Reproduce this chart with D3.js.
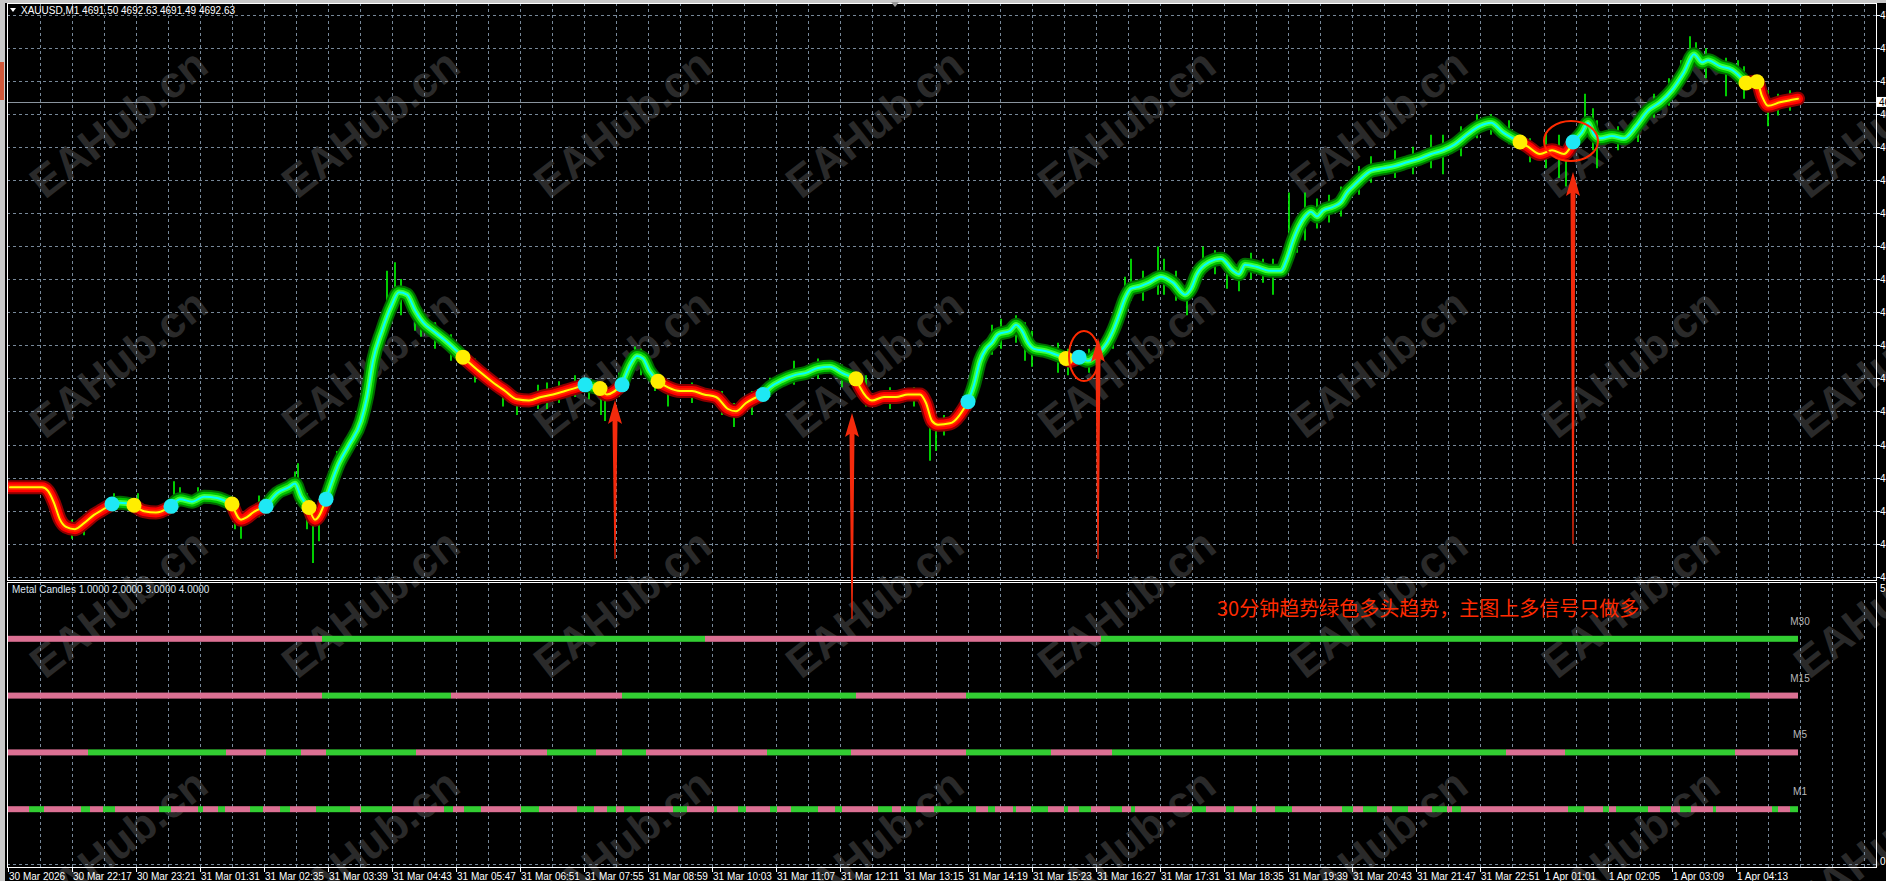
<!DOCTYPE html>
<html>
<head>
<meta charset="utf-8">
<script src="https://cdn.jsdelivr.net/npm/d3@7"></script>
<style>
body { margin: 0; background: #000; overflow: hidden; }
svg { display: block; }
</style>
</head>
<body>
<script>
// ---- data ----
var timeLabels = ["30 Mar 2026", "30 Mar 22:17", "30 Mar 23:21", "31 Mar 01:31", "31 Mar 02:35", "31 Mar 03:39",
  "31 Mar 04:43", "31 Mar 05:47", "31 Mar 06:51", "31 Mar 07:55", "31 Mar 08:59", "31 Mar 10:03", "31 Mar 11:07",
  "31 Mar 12:11", "31 Mar 13:15", "31 Mar 14:19", "31 Mar 15:23", "31 Mar 16:27", "31 Mar 17:31", "31 Mar 18:35",
  "31 Mar 19:39", "31 Mar 20:43", "31 Mar 21:47", "31 Mar 22:51", "1 Apr 01:01", "1 Apr 02:05", "1 Apr 03:09", "1 Apr 04:13"];

// smoothed trend line [bar, price]
var trendLine = [[2,4461.5],[34,4461.5],[40,4459.3],[46,4452.1],[52,4442.0],[58,4437.7],[67,4436.3],[76,4439.9],[86,4444.9],
  [94,4447.8],[104,4451.4],[112,4452.1],[126,4450.7],[136,4447.1],[148,4446.3],[163,4450.0],[172,4454.3],[184,4452.8],
  [196,4455.7],[209,4455.0],[224,4451.4],[233,4442.0],[239,4443.5],[245,4446.3],[258,4450.0],[269,4457.9],[281,4461.5],
  [287,4463.7],[293,4455.7],[301,4449.3],[307,4442.0],[318,4454.3],[331,4475.9],[341,4486.8],[353,4501.2],[359,4515.6],
  [365,4537.3],[374,4555.3],[383,4569.8],[391,4578.4],[399,4577.0],[407,4567.6],[415,4560.4],[425,4555.3],[437,4549.6],
  [455,4539.5],[473,4530.1],[485,4524.3],[497,4519.2],[509,4514.2],[521,4513.5],[533,4515.6],[545,4517.1],[557,4519.2],
  [577,4522.9],[592,4520.7],[599,4517.1],[614,4522.9],[623,4535.8],[629,4540.2],[635,4538.7],[641,4531.5],[650,4525.0],
  [660,4521.4],[672,4519.2],[684,4519.2],[696,4517.1],[708,4515.6],[720,4508.4],[728,4507.0],[738,4512.0],[755,4517.1],
  [762,4521.4],[774,4525.7],[786,4528.6],[798,4530.1],[810,4533.0],[822,4533.7],[834,4530.1],[848,4526.5],[852,4521.4],
  [864,4513.5],[876,4515.6],[888,4515.6],[900,4517.1],[912,4517.1],[918,4512.0],[924,4501.2],[930,4499.0],[942,4499.8],
  [960,4512.8],[966,4522.9],[972,4537.3],[978,4544.5],[984,4548.1],[990,4553.2],[1002,4555.3],[1008,4558.9],[1014,4555.3],
  [1020,4548.1],[1026,4544.5],[1038,4543.1],[1058,4538.7],[1062,4537.3],[1071,4539.5],[1080,4537.3],[1089,4540.9],
  [1099,4548.1],[1105,4555.3],[1111,4564.7],[1117,4574.8],[1123,4580.6],[1132,4582.0],[1141,4584.2],[1153,4587.8],
  [1165,4584.2],[1177,4577.0],[1183,4580.6],[1189,4589.3],[1201,4596.5],[1213,4598.6],[1225,4591.4],[1231,4589.3],
  [1237,4595.0],[1249,4593.6],[1261,4591.4],[1273,4591.4],[1279,4598.6],[1285,4609.5],[1291,4618.1],[1297,4623.9],
  [1303,4626.8],[1309,4623.9],[1315,4627.5],[1325,4629.7],[1333,4632.6],[1339,4638.3],[1345,4642.0],[1351,4645.5],
  [1363,4651.3],[1375,4652.8],[1387,4654.2],[1399,4656.4],[1411,4658.5],[1423,4661.4],[1435,4663.6],[1447,4667.2],
  [1459,4673.0],[1471,4678.0],[1483,4680.2],[1495,4674.4],[1512,4668.6],[1520,4665.8],[1532,4661.4],[1544,4663.6],
  [1556,4661.4],[1565,4668.6],[1574,4674.4],[1580,4680.2],[1586,4673.0],[1592,4670.8],[1604,4672.2],[1616,4670.8],
  [1628,4678.0],[1640,4687.4],[1652,4692.4],[1664,4699.7],[1676,4710.5],[1686,4721.3],[1694,4716.3],[1700,4717.7],
  [1712,4714.1],[1724,4711.9],[1738,4704.0],[1749,4704.7],[1754,4696.1],[1760,4690.3],[1772,4692.4],[1784,4693.9],[1790,4694.6]];

var bullSignals = [104, 163, 258, 318, 577, 614, 755, 960, 1071, 1565];
var bearSignals = [126, 224, 301, 455, 592, 650, 848, 1058, 1512, 1738, 1749];

// candle wicks that stick out of the trend line [bar, high, low]
var wicks = [[35,4465.1,4457.9],[52,4450.7,4436.3],[64,4442.0,4430.5],[76,4444.9,4432.6],[106,4457.9,4447.1],
  [130,4457.9,4444.9],[166,4465.1,4447.1],[172,4461.5,4450.7],[190,4461.5,4450.7],[227,4450.7,4436.3],[233,4447.1,4430.5],
  [251,4456.5,4443.5],[287,4470.9,4457.9],[290,4475.9,4459.3],[299,4457.9,4436.3],[305,4450.7,4416.0],[311,4454.3,4429.0],
  [329,4483.2,4468.7],[353,4508.4,4494.0],[359,4522.9,4504.8],[379,4591.4,4566.2],[387,4596.5,4573.4],[393,4586.4,4564.7],
  [407,4573.4,4555.3],[413,4567.6,4551.7],[427,4560.4,4544.5],[443,4553.2,4537.3],[467,4538.7,4524.3],[495,4524.3,4509.9],
  [509,4518.5,4504.8],[530,4522.9,4508.4],[539,4524.3,4508.4],[551,4525.0,4512.0],[567,4528.6,4515.6],[581,4525.7,4514.2],
  [593,4522.9,4504.8],[597,4521.4,4501.2],[611,4530.1,4515.6],[627,4545.9,4533.7],[633,4544.5,4528.6],[647,4531.5,4519.2],
  [660,4524.3,4509.9],[684,4524.3,4512.0],[714,4519.2,4504.8],[726,4512.0,4497.6],[744,4519.2,4504.8],[762,4527.2,4515.6],
  [786,4537.3,4522.9],[810,4538.7,4526.5],[834,4535.1,4521.4],[858,4528.6,4509.9],[882,4521.4,4508.4],[906,4521.4,4509.9],
  [922,4512.0,4477.4],[928,4504.8,4483.2],[936,4504.8,4492.5],[972,4545.9,4530.1],[984,4558.9,4540.9],[993,4562.5,4544.5],
  [1008,4564.7,4548.1],[1017,4560.4,4537.3],[1024,4555.3,4533.7],[1050,4548.1,4530.1],[1060,4544.5,4528.6],
  [1081,4544.5,4530.1],[1105,4562.5,4544.5],[1117,4587.8,4566.2],[1123,4598.6,4573.4],[1135,4591.4,4573.4],
  [1150,4605.9,4577.0],[1156,4598.6,4577.0],[1168,4591.4,4573.4],[1179,4584.2,4564.7],[1195,4605.9,4587.8],
  [1207,4603.7,4589.3],[1219,4598.6,4580.6],[1231,4596.5,4579.1],[1243,4602.2,4586.4],[1255,4598.6,4584.2],
  [1265,4598.6,4577.0],[1281,4638.3,4605.9],[1289,4620.3,4602.2],[1297,4638.3,4609.5],[1309,4634.7,4616.7],
  [1321,4636.9,4620.3],[1333,4641.9,4623.9],[1351,4654.2,4636.9],[1363,4660.0,4644.1],[1387,4663.6,4647.0],
  [1405,4665.8,4649.2],[1423,4673.0,4652.8],[1435,4673.0,4649.2],[1453,4678.0,4660.0],[1469,4685.2,4670.8],
  [1483,4685.2,4673.0],[1501,4681.6,4667.2],[1522,4670.8,4656.4],[1538,4674.4,4652.8],[1551,4673.0,4647.0],
  [1558,4668.6,4641.9],[1577,4697.5,4670.8],[1585,4688.8,4663.6],[1589,4681.6,4652.8],[1610,4678.0,4663.6],
  [1630,4685.2,4668.6],[1646,4697.5,4683.1],[1661,4706.9,4690.3],[1673,4717.7,4701.8],[1682,4732.1,4711.9],
  [1688,4728.5,4714.1],[1698,4724.9,4706.9],[1718,4719.2,4696.1],[1730,4717.7,4703.3],[1736,4714.1,4694.6],
  [1760,4699.7,4678.0],[1770,4697.5,4684.5],[1782,4699.7,4687.4]];

var lastClose = 4692.63;

// Metal Candles sub window: [start bar, 1 = up / 0 = down]
var m30 = [[0,0],[314,1],[697,0],[1093,1]];
var m15 = [[0,0],[314,1],[443,0],[614,1],[848,0],[958,1],[1742,0]];
var m5 = [[0,0],[80,1],[218,0],[258,1],[293,0],[318,1],[408,0],[539,1],[588,0],[614,1],[638,0],[759,1],[843,0],
  [958,1],[1043,0],[1104,1],[1498,0],[1557,1],[1727,0]];
var m1 = [[0,0],[21,1],[36,0],[73,1],[82,0],[95,1],[107,0],[151,1],[163,0],[190,1],[195,0],[210,1],[217,0],[242,1],
  [255,0],[272,1],[282,0],[308,1],[342,0],[353,1],[384,0],[436,1],[445,0],[456,1],[473,0],[513,1],[531,0],[569,1],
  [586,0],[599,1],[608,0],[616,1],[632,0],[665,1],[679,0],[706,1],[709,0],[730,1],[738,0],[762,1],[769,0],[783,1],
  [810,0],[827,1],[834,0],[870,1],[884,0],[893,1],[908,0],[926,1],[968,0],[980,1],[987,0],[1005,1],[1008,0],[1023,1],
  [1040,0],[1056,1],[1060,0],[1071,1],[1083,0],[1102,1],[1114,0],[1123,1],[1127,0],[1184,1],[1198,0],[1218,1],
  [1226,0],[1244,1],[1248,0],[1267,1],[1284,0],[1334,1],[1345,0],[1355,1],[1369,0],[1384,1],[1400,0],[1424,1],
  [1439,0],[1444,1],[1453,0],[1560,1],[1576,0],[1595,1],[1601,0],[1608,1],[1640,0],[1652,1],[1663,0],[1672,1],
  [1683,0],[1705,1],[1708,0],[1764,1],[1770,0],[1782,1]];
var subRows = [{name: "M30", level: 4, data: m30}, {name: "M15", level: 3, data: m15},
               {name: "M5", level: 2, data: m5}, {name: "M1", level: 1, data: m1}];

// hand drawn notes on the screenshot
var arrows = [{bar: 607, tip: 4513.8, tail: 4418.4}, {bar: 844, tip: 4506.0, tail: 4382.4},
              {bar: 1090, tip: 4551.0, tail: 4418.4}, {bar: 1565, tip: 4650.6, tail: 4427.4}];
var circles = [{bar: 1076, price: 4540.2, rx: 15, ry: 25}, {bar: 1563, price: 4669.2, rx: 27, ry: 20}];
var noteText = "30分钟趋势绿色多头趋势，主图上多信号只做多";

// ---- layout ----
var W = 1886, H = 881;
var left = 7, right = 1876, mainTop = 3, mainBottom = 580, subTop = 582, subBottom = 867;
var lastBar = 1790;

var x = d3.scaleLinear().domain([0, lastBar]).range([8, 1798]);
var y = d3.scaleLinear().domain([4405.8, 4752]).range([mainBottom, mainTop]);
var ySub = d3.scaleLinear().domain([0, 5]).range([866, 582]);

var svg = d3.select("body").append("svg")
  .attr("width", W)
  .attr("height", H)
  .style("background", "#000")
  .style("font-family", "'Liberation Sans Narrow', 'Liberation Sans', Arial, sans-serif");

// window frame bits
svg.append("rect").attr("x", 0).attr("y", 0).attr("width", W).attr("height", 3).style("fill", "#c8c8c8");
svg.append("rect").attr("x", 0).attr("y", 0).attr("width", 5).attr("height", H).style("fill", "#c8c8c8");
svg.append("rect").attr("x", 0).attr("y", 62).attr("width", 4).attr("height", 38).style("fill", "#d0583a");

var defs = svg.append("defs");
defs.append("clipPath").attr("id", "mainClip")
  .append("rect").attr("x", left).attr("y", mainTop).attr("width", right - left).attr("height", mainBottom - mainTop);

// watermark
var wm = svg.append("g");
[200, 440, 680, 920].forEach(function (wy) {
  for (var k = 0; k < 8; k++) {
    wm.append("text")
      .attr("transform", "translate(" + (45 + 252 * k) + "," + wy + ") rotate(-38)")
      .style("font-family", "'Liberation Sans', Arial, sans-serif")
      .style("font-size", "44px")
      .style("font-weight", "bold")
      .style("fill", "#2a2a2a")
      .text("EAHub.cn");
  }
});

// grid
var gridX = d3.range(32, lastBar + 80, 32).filter(function (b) { return x(b) < right - 2; });
var gridY = d3.range(0, 18).map(function (k) { return 15 + 33.04 * k; });
var grid = svg.append("g").style("stroke", "#778899").style("stroke-dasharray", "3,3").style("stroke-width", 1);
grid.selectAll("line.v1").data(gridX).enter().append("line")
  .attr("x1", function (d) { return Math.round(x(d)) + 0.5; })
  .attr("x2", function (d) { return Math.round(x(d)) + 0.5; })
  .attr("y1", mainTop).attr("y2", mainBottom);
grid.selectAll("line.v2").data(gridX).enter().append("line")
  .attr("x1", function (d) { return Math.round(x(d)) + 0.5; })
  .attr("x2", function (d) { return Math.round(x(d)) + 0.5; })
  .attr("y1", subTop).attr("y2", subBottom);
grid.selectAll("line.h").data(gridY).enter().append("line")
  .attr("x1", left).attr("x2", right)
  .attr("y1", function (d) { return Math.round(d) + 0.5; })
  .attr("y2", function (d) { return Math.round(d) + 0.5; });
grid.append("line").attr("x1", left).attr("x2", right).attr("y1", 864.5).attr("y2", 864.5);

// current price line
svg.append("line")
  .attr("x1", left).attr("x2", right)
  .attr("y1", Math.round(y(lastClose)) + 0.5).attr("y2", Math.round(y(lastClose)) + 0.5)
  .style("stroke", "#8a949e").style("stroke-width", 1);

var main = svg.append("g").attr("clip-path", "url(#mainClip)");

// candle wicks
main.selectAll("line.wick").data(wicks).enter().append("line")
  .attr("x1", function (d) { return x(d[0]); })
  .attr("x2", function (d) { return x(d[0]); })
  .attr("y1", function (d) { return y(d[1]); })
  .attr("y2", function (d) { return y(d[2]); })
  .style("stroke", "#00ff00").style("stroke-width", 1.6);

// split trend line into up / down runs
var signals = bullSignals.map(function (b) { return {bar: b, up: 1}; })
  .concat(bearSignals.map(function (b) { return {bar: b, up: 0}; }))
  .sort(function (a, b) { return a.bar - b.bar; });
function stateAt(bar) {
  var s = 0;
  signals.forEach(function (sg) { if (sg.bar <= bar) s = sg.up; });
  return s;
}
var runs = [];
trendLine.forEach(function (p, i) {
  if (i === trendLine.length - 1) return;
  var s = stateAt(p[0]);
  if (!runs.length || runs[runs.length - 1].up !== s) runs.push({up: s, pts: [p]});
  runs[runs.length - 1].pts.push(trendLine[i + 1]);
});

var lineGen = d3.line()
  .x(function (d) { return x(d[0]); })
  .y(function (d) { return y(d[1]); })
  .curve(d3.curveMonotoneX);

var upLayers = [["#006a00", 14], ["#00c400", 10], ["#3cff3c", 5.5], ["#00ffff", 2]];
var downLayers = [["#8c0000", 14], ["#ff0000", 10], ["#ff2a00", 5.5], ["#ffff00", 2]];
runs.forEach(function (r) {
  (r.up ? upLayers : downLayers).forEach(function (l) {
    main.append("path")
      .attr("d", lineGen(r.pts))
      .style("fill", "none")
      .style("stroke", l[0])
      .style("stroke-width", l[1])
      .style("stroke-linejoin", "round")
      .style("stroke-linecap", "round");
  });
});

// signal dots
function priceAt(bar) {
  return trendLine.filter(function (p) { return p[0] === bar; })[0][1];
}
main.selectAll("circle.sig").data(signals).enter().append("circle")
  .attr("cx", function (d) { return x(d.bar); })
  .attr("cy", function (d) { return y(priceAt(d.bar)); })
  .attr("r", 7.5)
  .style("fill", function (d) { return d.up ? "#1ee8f4" : "#ffee00"; });

// panel borders
svg.append("rect").attr("x", left + 0.5).attr("y", mainTop + 0.5)
  .attr("width", right - left).attr("height", mainBottom - mainTop)
  .style("fill", "none").style("stroke", "#ffffff");
svg.append("rect").attr("x", left + 0.5).attr("y", subTop + 0.5)
  .attr("width", right - left).attr("height", subBottom - subTop)
  .style("fill", "none").style("stroke", "#ffffff");

// price axis
var axisTxt = svg.append("g").style("font-size", "10px").style("fill", "#ffffff");
gridY.forEach(function (gy) {
  svg.append("line").attr("x1", right).attr("x2", right + 4)
    .attr("y1", Math.round(gy) + 0.5).attr("y2", Math.round(gy) + 0.5).style("stroke", "#ffffff");
  axisTxt.append("text").attr("x", right + 4).attr("y", gy + 4).text(d3.format(".2f")(y.invert(gy)));
});
svg.append("rect").attr("x", right + 1).attr("y", y(lastClose) - 5).attr("width", 12).attr("height", 10)
  .style("fill", "#ffffff");
svg.append("text").attr("x", right + 3).attr("y", y(lastClose) + 4)
  .style("font-size", "10px").style("fill", "#000").text(d3.format(".2f")(lastClose));

// sub window axis 0..5
axisTxt.append("text").attr("x", right + 4).attr("y", ySub(5) + 10).text("5");
axisTxt.append("text").attr("x", right + 4).attr("y", ySub(0) - 1).text("0");

// time axis
var timeBars = timeLabels.map(function (t, i) { return i * 64; });
svg.selectAll("line.tick").data(timeBars).enter().append("line")
  .attr("x1", function (d) { return Math.round(x(d)) + 0.5; })
  .attr("x2", function (d) { return Math.round(x(d)) + 0.5; })
  .attr("y1", subBottom).attr("y2", subBottom + 5)
  .style("stroke", "#ffffff");
svg.selectAll("text.time").data(timeLabels).enter().append("text")
  .attr("x", function (d, i) { return x(timeBars[i]) + 1; })
  .attr("y", 880)
  .style("font-size", "10px")
  .style("fill", "#ffffff")
  .text(function (d) { return d; });

// sub window bars
var sub = svg.append("g");
subRows.forEach(function (row) {
  var segs = row.data.map(function (d, i) {
    var end = i < row.data.length - 1 ? row.data[i + 1][0] : lastBar;
    return {start: d[0], end: end, up: d[1]};
  });
  sub.selectAll(null).data(segs).enter().append("rect")
    .attr("x", function (d) { return x(d.start); })
    .attr("width", function (d) { return x(d.end) - x(d.start); })
    .attr("y", ySub(row.level) - 3)
    .attr("height", 6)
    .style("fill", function (d) { return d.up ? "#32cd32" : "#db7093"; });
  sub.append("text")
    .attr("x", 1800).attr("y", ySub(row.level) - 14)
    .attr("text-anchor", "middle")
    .style("font-size", "10px").style("fill", "#b8b8b8")
    .text(row.name);
});

// titles
svg.append("path").attr("d", "M10,8 L16,8 L13,12 Z").style("fill", "#ffffff");
svg.append("text").attr("x", 21).attr("y", 14)
  .style("font-size", "10px").style("fill", "#ffffff")
  .text("XAUUSD,M1  4691.50 4692.63 4691.49 4692.63");
svg.append("text").attr("x", 12).attr("y", 593)
  .style("font-size", "10px").style("fill", "#dde4ee")
  .text("Metal Candles 1.0000 2.0000 3.0000 4.0000");
svg.append("path").attr("d", "M891,2 L899,2 L895,7 Z").style("fill", "#9a9a9a");

// annotations
svg.selectAll("ellipse.note").data(circles).enter().append("ellipse")
  .attr("cx", function (d) { return x(d.bar); })
  .attr("cy", function (d) { return y(d.price); })
  .attr("rx", function (d) { return d.rx; })
  .attr("ry", function (d) { return d.ry; })
  .style("fill", "none").style("stroke", "#ff2a00").style("stroke-width", 2);

svg.selectAll("path.arrow").data(arrows).enter().append("path")
  .attr("d", function (d) {
    var xc = x(d.bar), t = y(d.tip), b = y(d.tail), hh = 24, hw = 7;
    return "M" + xc + "," + t +
      " L" + (xc + hw) + "," + (t + hh) +
      " L" + (xc + 2.5) + "," + (t + hh - 3) +
      " L" + (xc + 0.6) + "," + b +
      " L" + (xc - 0.6) + "," + b +
      " L" + (xc - 2.5) + "," + (t + hh - 3) +
      " L" + (xc - hw) + "," + (t + hh) + " Z";
  })
  .style("fill", "#f42a0c");

svg.append("text").attr("x", 1217).attr("y", 616)
  .style("font-family", "'Noto Sans CJK SC', sans-serif")
  .style("font-size", "20px")
  .style("fill", "#ff2a00")
  .text(noteText);
</script>
</body>
</html>
